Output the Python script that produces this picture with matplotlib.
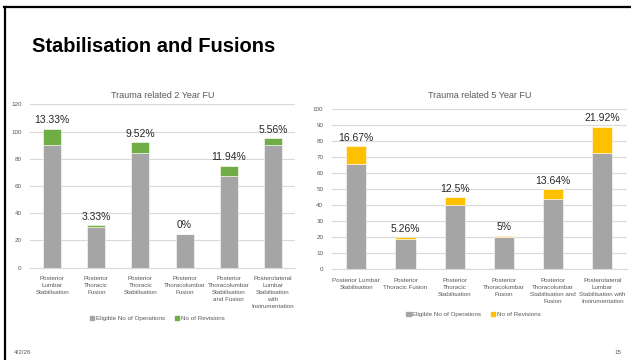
import matplotlib.pyplot as plt
import numpy as np
from matplotlib.lines import Line2D
from matplotlib.patches import Patch
from matplotlib import font_manager

# data
labels_2y = ["Posterior\nLumbar\nStabilisation", "Posterior\nThoracic\nFusion",
             "Posterior\nThoracic\nStabilisation", "Posterior\nThoracolumbar\nFusion",
             "Posterior\nThoracolumbar\nStabilisation\nand Fusion",
             "Posterolateral\nLumbar\nStabilisation\nwith\nInstrumentation"]
labels_5y = ["Posterior Lumbar\nStabilisation", "Posterior\nThoracic Fusion",
             "Posterior\nThoracic\nStabilisation", "Posterior\nThoracolumbar\nFusion",
             "Posterior\nThoracolumbar\nStabilisation and\nFusion",
             "Posterolateral\nLumbar\nStabilisation with\nInstrumentation"]

eligible_2y = [90, 30, 84, 25, 67, 90]
revisions_2y = [12, 1, 8, 0, 8, 5]
pct_2y = ["13.33%", "3.33%", "9.52%", "0%", "11.94%", "5.56%"]

eligible_5y = [66, 19, 40, 20, 44, 73]
revisions_5y = [11, 1, 5, 1, 6, 16]
pct_5y = ["16.67%", "5.26%", "12.5%", "5%", "13.64%", "21.92%"]

plt.rcParams['font.family'] = ['Liberation Sans', 'DejaVu Sans']

grey = '#A5A5A5'
text_grey = '#595959'

# narrow bold face for the slide heading, if it is there
names = {f.name for f in font_manager.fontManager.ttflist}
head_font = 'Liberation Sans Narrow' if 'Liberation Sans Narrow' in names else 'Liberation Sans'
head_size = 17.5 if head_font == 'Liberation Sans Narrow' else 14.5

fig = plt.figure(figsize=(6.31, 3.6), dpi=100)

# slide frame lines
fig.add_artist(Line2D([4 / 631, 1], [1 - 7 / 360, 1 - 7 / 360], color='black', lw=1.6))
fig.add_artist(Line2D([5 / 631, 5 / 631], [0, 1 - 7 / 360], color='black', lw=1.6))

fig.text(32 / 631, 1 - 47 / 360, "Stabilisation and Fusions", fontsize=head_size,
         fontweight='bold', va='center', ha='left', color='black', family=head_font)
fig.text(14 / 631, 1 - 352 / 360, "4/2/26", fontsize=4.5, color=text_grey, va='center')
fig.text(621 / 631, 1 - 352 / 360, "15", fontsize=4.5, color=text_grey, va='center', ha='right')


def draw(ax, labels, eligible, revisions, pct, color, ymax, step, title, title_pad, legend_y):
    x = np.arange(len(labels))
    ax.bar(x, eligible, width=0.41, color=grey, edgecolor='white', linewidth=0.4, zorder=2)
    ax.bar(x, revisions, bottom=eligible, width=0.41, color=color, edgecolor='white',
           linewidth=0.4, zorder=2)
    tops = np.array(eligible) + np.array(revisions)
    for xi, t, p in zip(x, tops, pct):
        ax.annotate(p, (xi, t), xytext=(0, 2.5), textcoords='offset points',
                    ha='center', va='bottom', fontsize=7.5, color='#262626')
    ax.set_xlim(-0.5, len(labels) - 0.5)
    ax.set_ylim(0, ymax)
    ax.set_yticks(np.arange(0, ymax + 1, step))
    ax.yaxis.grid(True, color='#D9D9D9', lw=0.8, zorder=0)
    for s in ['top', 'right', 'left']:
        ax.spines[s].set_visible(False)
    ax.spines['bottom'].set_color('#D9D9D9')
    ax.set_xticks(x)
    ax.set_xticklabels(labels, fontsize=4.5, color=text_grey, linespacing=1.5)
    ax.tick_params(axis='both', length=0, labelsize=4.5, colors=text_grey, pad=6)
    ax.set_title(title, fontsize=6.5, color=text_grey, pad=title_pad)
    handles = [Patch(color=grey, label='Eligible No of Operations'),
               Patch(color=color, label='No of Revisions')]
    ax.legend(handles=handles, loc='center', bbox_to_anchor=(0.48, legend_y), ncol=2,
              frameon=False, fontsize=4.5, handlelength=0.7, handleheight=0.7,
              columnspacing=1.5, handletextpad=0.3, labelcolor=text_grey)


ax1 = fig.add_axes([30 / 631, 0.2564, 265 / 631, 0.4539])
draw(ax1, labels_2y, eligible_2y, revisions_2y, pct_2y, '#70AD47', 120, 20,
     "Trauma related 2 Year FU", 4.5, -0.31)

ax2 = fig.add_axes([331.7 / 631, 0.2514, 295.3 / 631, 0.445])
draw(ax2, labels_5y, eligible_5y, revisions_5y, pct_5y, '#FFC000', 100, 10,
     "Trauma related 5 Year FU", 8, -0.28)

fig.savefig('out.png', dpi=100)
